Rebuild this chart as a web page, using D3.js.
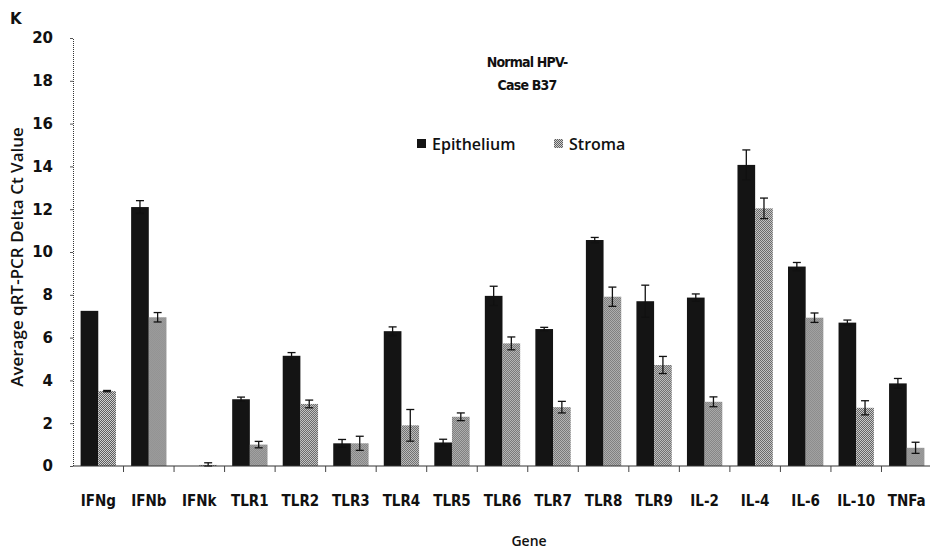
<!DOCTYPE html>
<html>
<head>
<meta charset="utf-8">
<script src="https://cdn.jsdelivr.net/npm/d3@7"></script>
<style>
  body { margin: 0; background: #fff; }
  svg { display: block; }
  .cond { font-family: "Liberation Sans Narrow", "DejaVu Sans Condensed", "Liberation Sans", sans-serif; }
</style>
</head>
<body>
<div id="content"></div>
<script>
// genes on the x axis
var genes = ['IFNg', 'IFNb', 'IFNk', 'TLR1', 'TLR2', 'TLR3', 'TLR4', 'TLR5', 'TLR6',
             'TLR7', 'TLR8', 'TLR9', 'IL-2', 'IL-4', 'IL-6', 'IL-10', 'TNFa'];

// average delta Ct values
var epithelium    = [7.25, 12.1, 0, 3.12, 5.15, 1.06, 6.3, 1.1, 7.95, 6.4, 10.56, 7.7, 7.87, 14.07, 9.32, 6.7, 3.86];
var epitheliumErr = [0, 0.3, 0, 0.1, 0.15, 0.18, 0.2, 0.15, 0.45, 0.08, 0.12, 0.75, 0.17, 0.7, 0.19, 0.12, 0.23];
var stroma        = [3.5, 6.95, 0.05, 1.0, 2.9, 1.06, 1.9, 2.3, 5.73, 2.75, 7.91, 4.72, 3.0, 12.04, 6.93, 2.72, 0.85];
var stromaErr     = [0.03, 0.22, 0.1, 0.15, 0.18, 0.33, 0.74, 0.18, 0.3, 0.27, 0.45, 0.4, 0.23, 0.48, 0.22, 0.33, 0.26];

var series = ['Epithelium', 'Stroma'];
var yTicks = [0, 2, 4, 6, 8, 10, 12, 14, 16, 18, 20];

var width = 930, height = 552;
var svg = d3.select('#content').append('svg')
    .attr('width', width)
    .attr('height', height);

// dithered grey fill for the stroma bars
var defs = svg.append('defs');
var pat = defs.append('pattern')
    .attr('id', 'dither')
    .attr('width', 2).attr('height', 2)
    .attr('patternUnits', 'userSpaceOnUse');
pat.append('rect').attr('width', 2).attr('height', 2).attr('fill', '#d0d0d0');
pat.append('rect').attr('width', 1).attr('height', 1).attr('fill', '#5e5e5e');
pat.append('rect').attr('x', 1).attr('y', 1).attr('width', 1).attr('height', 1).attr('fill', '#5e5e5e');

var colors = { Epithelium: '#141414', Stroma: 'url(#dither)' };

var x = d3.scaleBand()
    .domain(genes)
    .range([73, 932])
    .paddingInner(0)
    .paddingOuter(0);

var xs = d3.scaleBand()
    .domain(series)
    .range([0, x.bandwidth()])
    .paddingInner(0)
    .paddingOuter(0.43);

var y = d3.scaleLinear()
    .domain([0, 20])
    .range([466, 38]);

// y axis
var yAxis = svg.append('g')
    .attr('transform', 'translate(73,0)')
    .call(d3.axisLeft(y).tickValues(yTicks).tickSize(3).tickFormat(d3.format('d')));
yAxis.select('.domain').attr('stroke', '#333').attr('stroke-width', 1).attr('stroke-dasharray', '1,1');
yAxis.selectAll('.tick line').attr('stroke', '#555');
yAxis.selectAll('.tick text')
    .attr('x', -20)
    .attr('font-family', 'DejaVu Sans, sans-serif')
    .attr('font-weight', 'bold')
    .attr('font-size', 15)
    .attr('fill', '#111');

// bars
var rows = genes.map(function (g, i) {
  return [
    { gene: g, key: 'Epithelium', v: epithelium[i], e: epitheliumErr[i] },
    { gene: g, key: 'Stroma', v: stroma[i], e: stromaErr[i] }
  ];
});

var groups = svg.append('g').selectAll('g')
    .data(rows)
    .join('g')
    .attr('transform', function (d) { return 'translate(' + x(d[0].gene) + ',0)'; });

groups.selectAll('rect')
    .data(function (d) { return d; })
    .join('rect')
    .attr('x', function (d) { return xs(d.key); })
    .attr('width', xs.bandwidth())
    .attr('y', function (d) { return y(d.v); })
    .attr('height', function (d) { return y(0) - y(d.v); })
    .attr('fill', function (d) { return colors[d.key]; });

// error bars
var eb = groups.selectAll('g.err')
    .data(function (d) { return d.filter(function (r) { return r.e > 0; }); })
    .join('g')
    .attr('class', 'err')
    .attr('stroke', '#111')
    .attr('stroke-width', 1.3);
eb.append('line')
    .attr('x1', function (d) { return xs(d.key) + xs.bandwidth() / 2; })
    .attr('x2', function (d) { return xs(d.key) + xs.bandwidth() / 2; })
    .attr('y1', function (d) { return y(d.v + d.e); })
    .attr('y2', function (d) { return y(Math.max(0, d.v - d.e)); });
eb.append('line')
    .attr('x1', function (d) { return xs(d.key) + xs.bandwidth() / 2 - 4; })
    .attr('x2', function (d) { return xs(d.key) + xs.bandwidth() / 2 + 4; })
    .attr('y1', function (d) { return y(d.v + d.e); })
    .attr('y2', function (d) { return y(d.v + d.e); });
eb.append('line')
    .attr('x1', function (d) { return xs(d.key) + xs.bandwidth() / 2 - 4; })
    .attr('x2', function (d) { return xs(d.key) + xs.bandwidth() / 2 + 4; })
    .attr('y1', function (d) { return y(Math.max(0, d.v - d.e)); })
    .attr('y2', function (d) { return y(Math.max(0, d.v - d.e)); });

// x axis with ticks at category boundaries
var xAxis = svg.append('g').attr('transform', 'translate(0,466)');
xAxis.append('line')
    .attr('x1', 73).attr('x2', 932)
    .attr('stroke', '#333').attr('stroke-width', 1.2);
xAxis.selectAll('line.tk')
    .data(genes.slice(1))
    .join('line')
    .attr('class', 'tk')
    .attr('x1', function (d) { return x(d); })
    .attr('x2', function (d) { return x(d); })
    .attr('y1', 0).attr('y2', 6)
    .attr('stroke', '#444');
xAxis.selectAll('text')
    .data(genes)
    .join('text')
    .attr('class', 'cond')
    .attr('x', function (d) { return x(d) + x.bandwidth() / 2; })
    .attr('y', 40)
    .attr('text-anchor', 'middle')
    .attr('font-weight', 'bold')
    .attr('font-size', 15)
    .attr('fill', '#111')
    .text(function (d) { return d; });

// axis titles
svg.append('text')
    .attr('x', 529).attr('y', 546)
    .attr('text-anchor', 'middle')
    .attr('font-family', 'Open Sans, sans-serif')
    .attr('font-weight', 600)
    .attr('font-size', 14)
    .attr('fill', '#111')
    .text('Gene');

svg.append('text')
    .attr('transform', 'translate(23,257) rotate(-90)')
    .attr('text-anchor', 'middle')
    .attr('font-family', 'Open Sans, sans-serif')
    .attr('font-weight', 600)
    .attr('font-size', 17)
    .attr('fill', '#111')
    .text('Average qRT-PCR Delta Ct Value');

// panel letter
svg.append('text')
    .attr('x', 10).attr('y', 24)
    .attr('font-family', 'DejaVu Sans, sans-serif')
    .attr('font-weight', 'bold')
    .attr('font-size', 15)
    .attr('fill', '#111')
    .text('K');

// title
var title = svg.append('g').attr('class', 'cond')
    .attr('text-anchor', 'middle')
    .attr('font-weight', 'bold')
    .attr('font-size', 14)
    .attr('letter-spacing', -0.8)
    .attr('fill', '#111');
title.append('text').attr('x', 527).attr('y', 67).text('Normal HPV-');
title.append('text').attr('x', 527).attr('y', 90).text('Case B37');

// legend
var legendX = [417, 554];
var legend = svg.append('g').selectAll('g')
    .data(series)
    .join('g')
    .attr('transform', function (d, i) { return 'translate(' + legendX[i] + ',144)'; });
legend.append('rect')
    .attr('x', 0).attr('y', -5)
    .attr('width', 9).attr('height', 9)
    .attr('fill', function (d) { return colors[d]; });
legend.append('text')
    .attr('x', 15).attr('y', 6)
    .attr('font-family', 'Open Sans, sans-serif')
    .attr('font-weight', 600)
    .attr('font-size', 16)
    .attr('fill', '#111')
    .text(function (d) { return d; });
</script>
</body>
</html>
